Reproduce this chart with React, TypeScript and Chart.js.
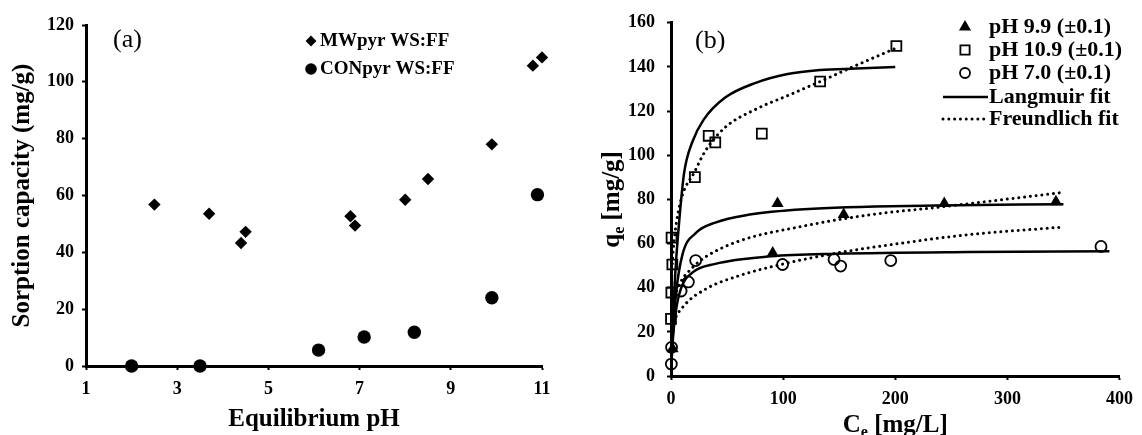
import React, { useEffect, useRef } from 'react';
import { Chart, registerables } from 'chart.js';

Chart.register(...registerables);

const SERIF = '"Liberation Serif", "Times New Roman", Times, serif';

// ---------------- Panel (a) ----------------
const phTicks = [1, 3, 5, 7, 9, 11];
const capacityTicks = [0, 20, 40, 60, 80, 100, 120];
const mwLabel = 'MWpyr WS:FF';
const mwPH = [2.5, 3.7, 4.4, 4.5, 6.8, 6.9, 8.0, 8.5, 9.9, 10.8, 11.0];
const mwCapacity = [56.8, 53.6, 43.3, 47.2, 52.7, 49.4, 58.5, 65.8, 78.0, 105.7, 108.6];
const conLabel = 'CONpyr WS:FF';
const conPH = [2.0, 3.5, 6.1, 7.1, 8.2, 9.9, 10.9];
const conCapacity = [0, 0, 5.6, 10.2, 11.9, 24.0, 60.3];

// ---------------- Panel (b) ----------------
const ceTicks = [0, 100, 200, 300, 400];
const qeTicks = [0, 20, 40, 60, 80, 100, 120, 140, 160];

const ph99Label = 'pH 9.9 (\u00b10.1)';
const ph99Ce = [1.4, 90.7, 95, 154, 243.7, 343.3];
const ph99Qe = [12.4, 55.7, 78.1, 73.2, 78.1, 78.9];

const ph109Label = 'pH 10.9 (\u00b10.1)';
const ph109Ce = [0, 0.3, 1.2, 0.5, 21.3, 33.6, 39.5, 81, 133, 201];
const ph109Qe = [25.9, 37.8, 50.5, 62.7, 90.1, 108.8, 105.8, 109.8, 133.4, 149.5];

const ph70Label = 'pH 7.0 (\u00b10.1)';
const ph70Ce = [0.3, 0.5, 9, 15.5, 22, 99.5, 145.4, 151.3, 196, 383.5];
const ph70Qe = [5.4, 13, 38.5, 42.6, 52.3, 50.5, 52.8, 49.8, 52.3, 58.7];

const langmuirLabel = 'Langmuir fit';
const freundlichLabel = 'Freundlich fit';

// Langmuir fit curves
const lang109Ce = [0.3, 1, 2, 4, 7.3, 11.7, 19, 29, 48, 75, 104, 133, 165, 200];
const lang109Qe = [5, 16, 29, 48, 70, 92, 106, 116, 126, 132.7, 136.8, 138.6, 139.3, 140];
const lang99Ce = [0.3, 1.4, 4.4, 10.2, 22, 39.5, 68.8, 118.6, 236, 350];
const lang99Qe = [5, 17, 37, 55, 64.7, 69.5, 73, 75.5, 77.2, 77.8];
const lang70Ce = [0.3, 1.4, 4.4, 8.8, 19, 39.5, 89, 148, 265, 391];
const lang70Qe = [4, 15, 29.5, 39.5, 46.8, 50.8, 54.2, 55.4, 56.2, 56.5];

// Freundlich fit curves
const freu109Ce = [0.2, 0.5, 1, 2, 5, 10.2, 20.5, 30.7, 48, 75, 104, 133, 162, 200];
const freu109Qe = [35, 42, 49, 57, 70, 82, 92, 102, 112.5, 120.7, 127, 133.4, 140, 148.4];
const freu99Ce = [0.3, 1, 3, 8, 19, 31, 60, 119, 177, 241, 347];
const freu99Qe = [23, 29, 35, 42, 49, 54, 61, 68, 73, 76.6, 83];
const freu70Ce = [0.3, 1, 3, 10.2, 30.7, 60, 98, 148, 206, 265, 348];
const freu70Qe = [14, 19, 24.5, 31, 39.3, 45.3, 50.5, 55.7, 60.2, 64, 67.4];

const zip = (xs: number[], ys: number[]) => xs.map((x, i) => ({ x, y: ys[i] }));

function marker(ctx: CanvasRenderingContext2D, style: string, x: number, y: number, r: number, fill: boolean, lw: number) {
  ctx.beginPath();
  if (style === 'rectRot') {
    ctx.moveTo(x - r, y);
    ctx.lineTo(x, y - r);
    ctx.lineTo(x + r, y);
    ctx.lineTo(x, y + r);
    ctx.closePath();
  } else if (style === 'triangle') {
    ctx.moveTo(x, y - r);
    ctx.lineTo(x + 0.866 * r, y + 0.5 * r);
    ctx.lineTo(x - 0.866 * r, y + 0.5 * r);
    ctx.closePath();
  } else if (style === 'rect') {
    const s = Math.SQRT1_2 * r;
    ctx.rect(x - s, y - s, 2 * s, 2 * s);
  } else {
    ctx.arc(x, y, r, 0, Math.PI * 2);
  }
  if (fill) {
    ctx.fillStyle = '#000';
    ctx.fill();
  } else {
    ctx.lineWidth = lw;
    ctx.strokeStyle = '#000';
    ctx.stroke();
  }
}

const tickFont = { family: SERIF, size: 18, weight: 'bold' as const };

function axisCommon(ticksArr: number[], pad: number) {
  return {
    type: 'linear' as const,
    afterBuildTicks: (s: any) => {
      s.ticks = ticksArr.map((v) => ({ value: v }));
    },
    grid: {
      drawOnChartArea: false,
      drawTicks: true,
      tickLength: 4,
      tickWidth: 2,
      tickColor: '#000',
    },
    border: { display: true, color: '#000', width: 3 },
    ticks: { color: '#000', font: tickFont, padding: pad, maxRotation: 0, autoSkip: false },
  };
}

const panelAPlugin = {
  id: 'panelA',
  afterDraw(chart: any) {
    const ctx = chart.ctx as CanvasRenderingContext2D;
    ctx.save();
    ctx.fillStyle = '#000';
    ctx.textBaseline = 'middle';
    ctx.textAlign = 'left';
    ctx.font = `26px ${SERIF}`;
    ctx.fillText('(a)', 113, 40);
    ctx.font = `bold 19px ${SERIF}`;
    const rows = [41, 69];
    const radii = [5.4, 5.8];
    chart.data.datasets.forEach((d: any, i: number) => {
      marker(ctx, d.pointStyle, 311, rows[i], radii[i], true, 0);
      ctx.fillStyle = '#000';
      ctx.fillText(d.label, 320, rows[i]);
    });
    ctx.restore();
  },
};

function drawSubTitle(ctx: CanvasRenderingContext2D, main: string, sub: string, rest: string, cx: number, by: number) {
  const mainFont = `bold 25px ${SERIF}`;
  const subFont = `bold 16px ${SERIF}`;
  ctx.font = mainFont;
  const w1 = ctx.measureText(main).width;
  const w3 = ctx.measureText(rest).width;
  ctx.font = subFont;
  const w2 = ctx.measureText(sub).width;
  let x = cx - (w1 + w2 + w3) / 2;
  ctx.textAlign = 'left';
  ctx.textBaseline = 'alphabetic';
  ctx.font = mainFont;
  ctx.fillText(main, x, by);
  x += w1;
  ctx.font = subFont;
  ctx.fillText(sub, x, by + 5);
  x += w2;
  ctx.font = mainFont;
  ctx.fillText(rest, x, by);
}

const DOT_DASH = [0.01, 5.8];
const DOT_WIDTH = 3;

const panelBPlugin = {
  id: 'panelB',
  afterDraw(chart: any) {
    const ctx = chart.ctx as CanvasRenderingContext2D;
    const ca = chart.chartArea;
    ctx.save();
    ctx.fillStyle = '#000';
    // axis titles
    drawSubTitle(ctx, 'C', 'e', ' [mg/L]', (ca.left + ca.right) / 2, 432);
    ctx.save();
    ctx.translate(49, (ca.top + ca.bottom) / 2);
    ctx.rotate(-Math.PI / 2);
    drawSubTitle(ctx, 'q', 'e', ' [mg/g]', 0, 0);
    ctx.restore();
    // panel label
    ctx.textBaseline = 'middle';
    ctx.textAlign = 'left';
    ctx.font = `26px ${SERIF}`;
    ctx.fillText('(b)', 125, 41);
    // legend
    const ds = chart.data.datasets;
    const mx = 395;
    const tx = 419;
    const rows = [27, 50, 73, 97, 119];
    ctx.font = `bold 22px ${SERIF}`;
    for (let i = 0; i < 3; i++) {
      const d = ds[i];
      const filled = d.backgroundColor === '#000';
      const r = d.pointStyle === 'triangle' ? 7 : d.pointStyle === 'rect' ? 6.5 : 5;
      marker(ctx, d.pointStyle, mx, rows[i], r, filled, 1.8);
      ctx.fillStyle = '#000';
      ctx.fillText(d.label, tx, rows[i]);
    }
    // Langmuir
    ctx.strokeStyle = '#000';
    ctx.lineWidth = 2.6;
    ctx.setLineDash([]);
    ctx.beginPath();
    ctx.moveTo(373, rows[3]);
    ctx.lineTo(418, rows[3]);
    ctx.stroke();
    ctx.fillText(langmuirLabel, tx, rows[3]);
    // Freundlich
    ctx.lineCap = 'round';
    ctx.lineWidth = DOT_WIDTH;
    ctx.setLineDash(DOT_DASH);
    ctx.beginPath();
    ctx.moveTo(373, rows[4]);
    ctx.lineTo(414, rows[4]);
    ctx.stroke();
    ctx.setLineDash([]);
    ctx.fillText(freundlichLabel, tx, rows[4]);
    ctx.restore();
  },
};

export default function App() {
  const refA = useRef<HTMLCanvasElement>(null);
  const refB = useRef<HTMLCanvasElement>(null);

  useEffect(() => {
    const chartA = new Chart(refA.current as HTMLCanvasElement, {
      type: 'scatter',
      data: {
        datasets: [
          {
            label: mwLabel,
            data: zip(mwPH, mwCapacity),
            pointStyle: 'rectRot',
            pointRadius: 6.2,
            backgroundColor: '#000',
            borderColor: '#000',
            borderWidth: 0,
            clip: false,
          } as any,
          {
            label: conLabel,
            data: zip(conPH, conCapacity),
            pointStyle: 'circle',
            pointRadius: 6.7,
            backgroundColor: '#000',
            borderColor: '#000',
            borderWidth: 0,
            clip: false,
          } as any,
        ],
      },
      options: {
        responsive: false,
        animation: false,
        events: [],
        layout: { padding: { left: 0, right: 28, top: 25, bottom: 0 } },
        plugins: { legend: { display: false }, tooltip: { enabled: false } },
        scales: {
          x: {
            ...axisCommon(phTicks, 8.5),
            min: 1,
            max: 11,
            title: {
              display: true,
              text: 'Equilibrium pH',
              color: '#000',
              font: { family: SERIF, size: 25, weight: 'bold' },
              padding: { top: 0, bottom: 0 },
            },
            afterFit: (s: any) => {
              s.height = 69;
            },
          } as any,
          y: {
            ...axisCommon(capacityTicks, 8),
            min: 0,
            max: 120,
            title: {
              display: true,
              text: 'Sorption capacity (mg/g)',
              color: '#000',
              font: { family: SERIF, size: 25, weight: 'bold' },
              padding: { top: 8, bottom: 0 },
            },
            afterFit: (s: any) => {
              s.width = 86;
            },
          } as any,
        },
      },
      plugins: [panelAPlugin],
    });

    const lineDs = (label: string, xs: number[], ys: number[], dotted: boolean) =>
      ({
        label,
        data: zip(xs, ys),
        showLine: true,
        pointRadius: 0,
        borderColor: '#000',
        backgroundColor: '#000',
        borderWidth: dotted ? DOT_WIDTH : 2.5,
        borderDash: dotted ? DOT_DASH : [],
        borderCapStyle: dotted ? 'round' : 'butt',
        cubicInterpolationMode: 'monotone',
      } as any);

    const chartB = new Chart(refB.current as HTMLCanvasElement, {
      type: 'scatter',
      data: {
        datasets: [
          {
            label: ph99Label,
            data: zip(ph99Ce, ph99Qe),
            pointStyle: 'triangle',
            pointRadius: 7,
            backgroundColor: '#000',
            borderColor: '#000',
            borderWidth: 0,
            clip: false,
          } as any,
          {
            label: ph109Label,
            data: zip(ph109Ce, ph109Qe),
            pointStyle: 'rect',
            pointRadius: 7,
            backgroundColor: 'rgba(0,0,0,0)',
            borderColor: '#000',
            borderWidth: 1.8,
            clip: false,
          } as any,
          {
            label: ph70Label,
            data: zip(ph70Ce, ph70Qe),
            pointStyle: 'circle',
            pointRadius: 5.5,
            backgroundColor: 'rgba(0,0,0,0)',
            borderColor: '#000',
            borderWidth: 1.8,
            clip: false,
          } as any,
          lineDs(langmuirLabel, lang109Ce, lang109Qe, false),
          lineDs(langmuirLabel, lang99Ce, lang99Qe, false),
          lineDs(langmuirLabel, lang70Ce, lang70Qe, false),
          lineDs(freundlichLabel, freu109Ce, freu109Qe, true),
          lineDs(freundlichLabel, freu99Ce, freu99Qe, true),
          lineDs(freundlichLabel, freu70Ce, freu70Qe, true),
        ],
      },
      options: {
        responsive: false,
        animation: false,
        events: [],
        layout: { padding: { left: 0, right: 15, top: 19, bottom: 0 } },
        plugins: { legend: { display: false }, tooltip: { enabled: false } },
        scales: {
          x: {
            ...axisCommon(ceTicks, 9),
            min: 0,
            max: 400,
            title: { display: false },
            afterFit: (s: any) => {
              s.height = 59;
            },
          } as any,
          y: {
            ...axisCommon(qeTicks, 12),
            min: 0,
            max: 160,
            title: { display: false },
            afterFit: (s: any) => {
              s.width = 101;
            },
          } as any,
        },
      },
      plugins: [panelBPlugin],
    });

    return () => {
      chartA.destroy();
      chartB.destroy();
    };
  }, []);

  return (
    <div style={{ position: 'fixed', left: 0, top: 0, width: 1142, height: 435, background: '#fff' }}>
      <canvas ref={refA} width={570} height={435} style={{ position: 'absolute', left: 0, top: 0, display: 'block' }} />
      <canvas ref={refB} width={572} height={435} style={{ position: 'absolute', left: 570, top: 0, display: 'block' }} />
    </div>
  );
}
